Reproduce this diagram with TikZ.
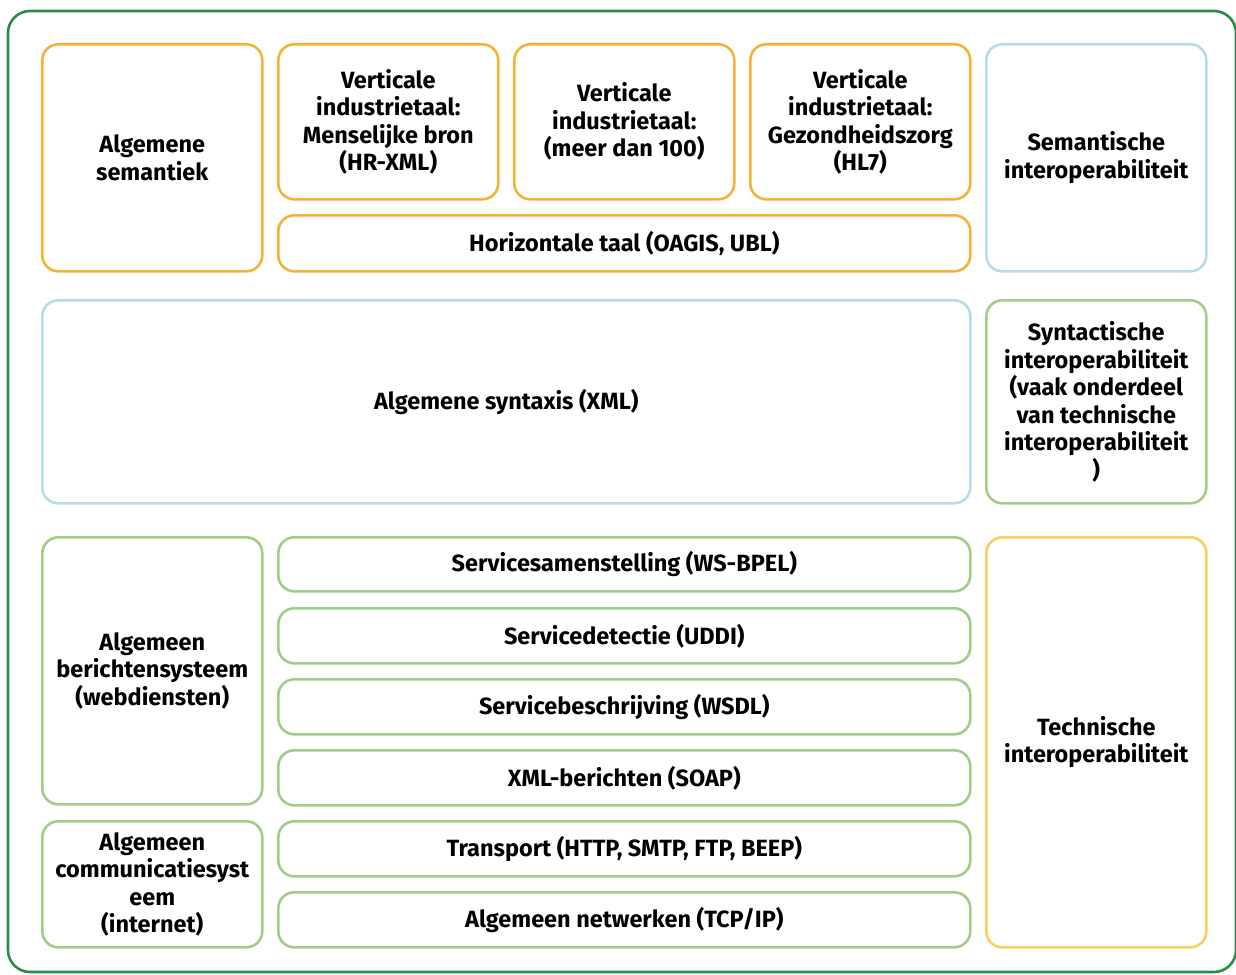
\documentclass[tikz,border=0pt]{standalone}
\usepackage{fontspec}
\setmainfont{Fira Sans}

\definecolor{framegreen}{RGB}{40,140,70}
\definecolor{semorange}{RGB}{245,178,55}
\definecolor{synblue}{RGB}{180,220,238}
\definecolor{techgreen}{RGB}{160,205,140}
\definecolor{techyellow}{RGB}{250,205,95}

\begin{document}
\begin{tikzpicture}[x=1pt,y=-1pt,
  layer/.style={draw,line width=2.6pt,rounded corners=16pt,anchor=north west,
    align=center,inner sep=2pt,
    font=\fontseries{sb}\selectfont\fontsize{23.5}{27.5}\selectfont},
  sem/.style={layer,draw=semorange},
  syn/.style={layer,draw=synblue},
  tech/.style={layer,draw=techgreen}]
\useasboundingbox (0,0) rectangle (1236,974);
\clip (0,0) rectangle (1236,974);
\draw[framegreen,line width=2.6pt,rounded corners=22pt] (8,11) rectangle (1236,972);

% semantic level
\node[sem,minimum width=220pt,minimum height=227pt] (algsem) at (41,43) {Algemene\\semantiek};
\node[sem,minimum width=220pt,minimum height=155pt] (hrxml) at (277,43) {Verticale\\industrietaal:\\Menselijke bron\\(HR-XML)};
\node[sem,minimum width=220pt,minimum height=155pt] (meer) at (513,43) {Verticale\\industrietaal:\\(meer dan 100)};
\node[sem,minimum width=220pt,minimum height=155pt] (hl7) at (749,43) {Verticale\\industrietaal:\\Gezondheidszorg\\(HL7)};
\node[sem,minimum width=692pt,minimum height=56pt] (horiz) at (277,214) {Horizontale taal (OAGIS, UBL)};
\node[syn,minimum width=220pt,minimum height=227pt] (seminter) at (985,43) {Semantische\\interoperabiliteit};

% syntactic level
\node[syn,minimum width=928pt,minimum height=203pt] (xml) at (41,299) {Algemene syntaxis (XML)};
\node[tech,minimum width=220pt,minimum height=203pt] (syninter) at (985,299) {Syntactische\\interoperabiliteit\\(vaak onderdeel\\van technische\\interoperabiliteit\\)};

% technical level
\node[tech,minimum width=220pt,minimum height=267pt] (bericht) at (41,536) {Algemeen\\berichtensysteem\\(webdiensten)};
\node[tech,minimum width=220pt,minimum height=126pt] (comm) at (41,820) {Algemeen\\communicatiesyst\\eem\\(internet)};
\node[tech,minimum width=692pt,minimum height=54pt] (bpel) at (277,536) {Servicesamenstelling (WS-BPEL)};
\node[tech,minimum width=692pt,minimum height=55pt] (uddi) at (277,607) {Servicedetectie (UDDI)};
\node[tech,minimum width=692pt,minimum height=55pt] (wsdl) at (277,678) {Servicebeschrijving (WSDL)};
\node[tech,minimum width=692pt,minimum height=55pt] (soap) at (277,749) {XML-berichten (SOAP)};
\node[tech,minimum width=692pt,minimum height=55pt] (transport) at (277,820) {Transport (HTTP, SMTP, FTP, BEEP)};
\node[tech,minimum width=692pt,minimum height=55pt] (tcpip) at (277,891) {Algemeen netwerken (TCP/IP)};
\node[layer,draw=techyellow,minimum width=220pt,minimum height=410pt] (techinter) at (985,536) {Technische\\interoperabiliteit};
\end{tikzpicture}
\end{document}
